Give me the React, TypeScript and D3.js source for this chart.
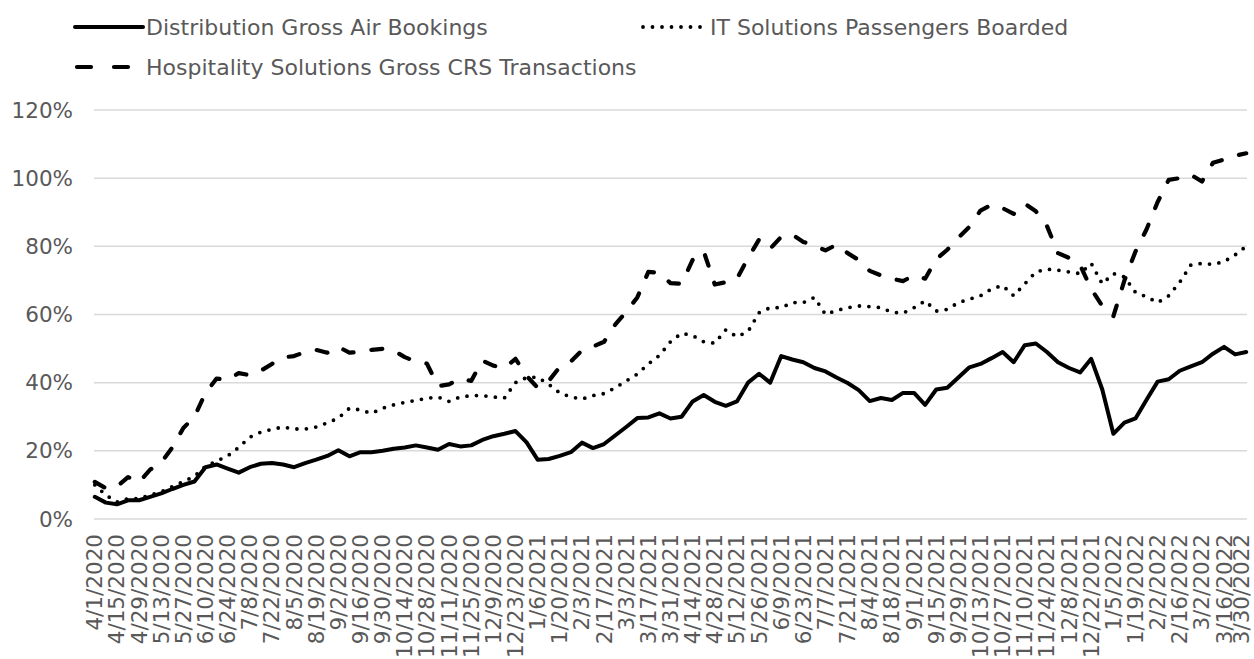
import React, { useRef, useEffect } from 'react';
import * as d3 from 'd3';

// weekly readings, 4/1/2020 .. 3/30/2022
const startDate = new Date(2020, 3, 1);
const endDate = new Date(2022, 2, 30);
const weekDates = d3.timeDay.range(startDate, d3.timeDay.offset(endDate, 1), 7);
const tickDates = d3.timeDay.range(startDate, d3.timeDay.offset(endDate, 1), 14);
const yTicks = [0, 20, 40, 60, 80, 100, 120];

const seriesNames = [
  'Distribution Gross Air Bookings',
  'IT Solutions Passengers Boarded',
  'Hospitality Solutions Gross CRS Transactions'
];

const distribution = [
  6.5, 4.8, 4.3, 5.5, 5.5, 6.5, 7.5, 8.8, 10, 11,
  15.2, 16, 14.8, 13.6, 15.2, 16.2, 16.4, 16, 15.2, 16.4,
  17.4, 18.5, 20.2, 18.4, 19.6, 19.6, 20, 20.6, 21, 21.6,
  21, 20.3, 22, 21.3, 21.6, 23.2, 24.3, 25, 25.8, 22.5,
  17.4, 17.6, 18.5, 19.6, 22.4, 20.8, 22, 24.5, 27, 29.6,
  29.8, 31, 29.5, 30, 34.5, 36.4, 34.4, 33.2, 34.5, 40,
  42.6, 40, 47.8, 46.8, 46, 44.3, 43.3, 41.5, 39.9, 37.8,
  34.6, 35.5, 34.9, 37, 37, 33.5, 38, 38.5, 41.5, 44.5,
  45.5, 47.2, 49, 46, 51, 51.5, 49, 46, 44.3, 43,
  47, 38, 25, 28.3, 29.5, 35, 40.3, 41, 43.5, 44.8,
  46, 48.5, 50.5, 48.3, 49
];

const itSolutions = [
  10, 7, 5, 6, 6, 7, 8, 9.5, 11, 12.5,
  15.5, 17, 18.5, 21, 24, 25.5, 26.3, 27, 26.4, 26.4,
  27, 28.2, 29.6, 32.5, 32, 31, 32.5, 33.5, 34.2, 34.8,
  35.4, 35.8, 34.5, 35.8, 36.2, 36.2, 35.8, 35.5, 40, 41.5,
  41.6, 39.5, 37, 35.8, 35.2, 36.2, 36.8, 38.5, 40.5, 42.5,
  45.5, 48, 52, 54.5, 53.8, 52, 51.6, 55.5, 53.5, 55,
  60.5, 62, 62, 63.5, 63.5, 65, 60, 61.2, 62, 62.5,
  62.3, 62, 60.7, 60.4, 62, 64, 61, 61.5, 63.5, 64.5,
  65.5, 67.5, 68.5, 65.5, 69, 72.5, 73.3, 73, 72.5, 72,
  75, 69, 72, 71, 66.5, 65.2, 63.5, 65.5, 69.5, 74.5,
  75, 74.7, 75.5, 77.5, 80
];

const hospitality = [
  10.9, 9, 9.5, 12.3, 10.8, 14.5, 16.5, 21, 26.7, 30,
  37, 41.2, 40.8, 42.8, 42.2, 43.5, 45.5, 47.4, 47.8, 49,
  49.6, 48.8, 50.5, 48.8, 49, 49.6, 49.9, 49.4, 47.5, 46.2,
  45.6, 39, 39.5, 41.2, 40.5, 46.5, 45, 44.3, 47, 42,
  38.5, 40.5, 44.6, 46.2, 49.5, 50.6, 52, 57, 60.8, 65,
  72.5, 72.2, 69.2, 69, 76, 78.5, 68.8, 69.5, 70.5, 76.5,
  82, 79.3, 82.8, 83.4, 81.3, 80.2, 78.8, 80.5, 78, 76,
  72.8, 71.5, 70.5, 69.8, 71.5, 70.5, 76.2, 79, 82.5, 85.7,
  90.5, 92.2, 91.2, 89.5, 92.5, 90.3, 86, 78, 76.6, 74.5,
  67.5, 62.5, 59.5, 70, 78.5, 85, 93, 99.5, 100, 101,
  99, 104.5, 105.5, 106.6, 107.3
];

export default function App(): JSX.Element {
  const svgRef = useRef<SVGSVGElement>(null);

  useEffect(() => {
    const svgEle = svgRef.current;
    if (svgEle == null) {
      return;
    }
    const width = 1254;
    const height = 659;
    const plot = { left: 94, right: 1247, top: 110, bottom: 519 };
    const textColor = '#595959';
    const font = 'DejaVu Sans, Verdana, sans-serif';
    const fontSize = '21.5px';

    const svg = d3.select(svgEle);
    svg.selectAll('*').remove();
    svg.attr('width', width).attr('height', height);

    const x = d3
      .scaleTime()
      .domain([d3.timeHour.offset(startDate, -12), d3.timeHour.offset(endDate, 12)])
      .range([plot.left, plot.right]);
    const y = d3.scaleLinear().domain([0, 120]).range([plot.bottom, plot.top]);

    // 网格线
    svg
      .append('g')
      .selectAll('line')
      .data(yTicks)
      .join('line')
      .attr('x1', plot.left)
      .attr('x2', plot.right)
      .attr('y1', (d) => y(d))
      .attr('y2', (d) => y(d))
      .attr('stroke', '#d9d9d9')
      .attr('stroke-width', 1.5);

    // y 轴文字
    svg
      .append('g')
      .selectAll('text')
      .data(yTicks)
      .join('text')
      .attr('x', 73)
      .attr('y', (d) => y(d))
      .attr('text-anchor', 'end')
      .attr('dominant-baseline', 'central')
      .style('font-family', font)
      .style('font-size', fontSize)
      .attr('fill', textColor)
      .text((d) => `${d}%`);

    // x 轴文字 (竖排)
    const fmt = d3.timeFormat('%-m/%-d/%Y');
    svg
      .append('g')
      .selectAll('text')
      .data(tickDates)
      .join('text')
      .attr('transform', (d) => `translate(${Math.min(x(d), 1241)}, 534) rotate(-90)`)
      .attr('text-anchor', 'end')
      .attr('dominant-baseline', 'central')
      .style('font-family', font)
      .style('font-size', fontSize)
      .attr('fill', textColor)
      .text((d) => fmt(d));

    const styles = [
      { dash: null, width: 4, cap: 'round' },
      { dash: '0 9.5', width: 3.8, cap: 'round' },
      { dash: '11 18', width: 4.2, cap: 'round' }
    ];
    const table = [distribution, itSolutions, hospitality].map((values, k) => ({
      name: seriesNames[k],
      points: values.map((v, i) => ({ date: weekDates[i], value: v })),
      ...styles[k]
    }));

    const line = d3
      .line<{ date: Date; value: number }>()
      .x((d) => x(d.date))
      .y((d) => y(d.value));

    // 画折线
    svg
      .append('g')
      .selectAll('path')
      .data(table)
      .join('path')
      .attr('d', (d) => line(d.points))
      .attr('fill', 'none')
      .attr('stroke', '#000')
      .attr('stroke-width', (d) => d.width)
      .attr('stroke-linejoin', 'round')
      .attr('stroke-linecap', (d) => d.cap)
      .attr('stroke-dasharray', (d) => d.dash);

    // 图例
    const legendPos = [
      { x1: 75, x2: 143, y: 27, tx: 146 },
      { x1: 643, x2: 701, y: 27, tx: 710 },
      { x1: 77, x2: 143, y: 67, tx: 146 }
    ];
    const legend = svg
      .append('g')
      .selectAll('g')
      .data(table)
      .join('g');
    legend
      .append('line')
      .attr('x1', (d, i) => legendPos[i].x1)
      .attr('x2', (d, i) => legendPos[i].x2)
      .attr('y1', (d, i) => legendPos[i].y)
      .attr('y2', (d, i) => legendPos[i].y)
      .attr('stroke', '#000')
      .attr('stroke-width', (d) => d.width)
      .attr('stroke-linecap', (d) => d.cap)
      .attr('stroke-dasharray', (d, i) => (i === 2 ? '14 23' : d.dash));
    legend
      .append('text')
      .attr('x', (d, i) => legendPos[i].tx)
      .attr('y', (d, i) => legendPos[i].y)
      .attr('dominant-baseline', 'central')
      .style('font-family', font)
      .style('font-size', '22px')
      .attr('fill', textColor)
      .text((d) => d.name);
  }, []);

  return (
    <svg
      ref={svgRef}
      style={{ position: 'absolute', left: 0, top: 0, background: '#fff' }}
    />
  );
}
